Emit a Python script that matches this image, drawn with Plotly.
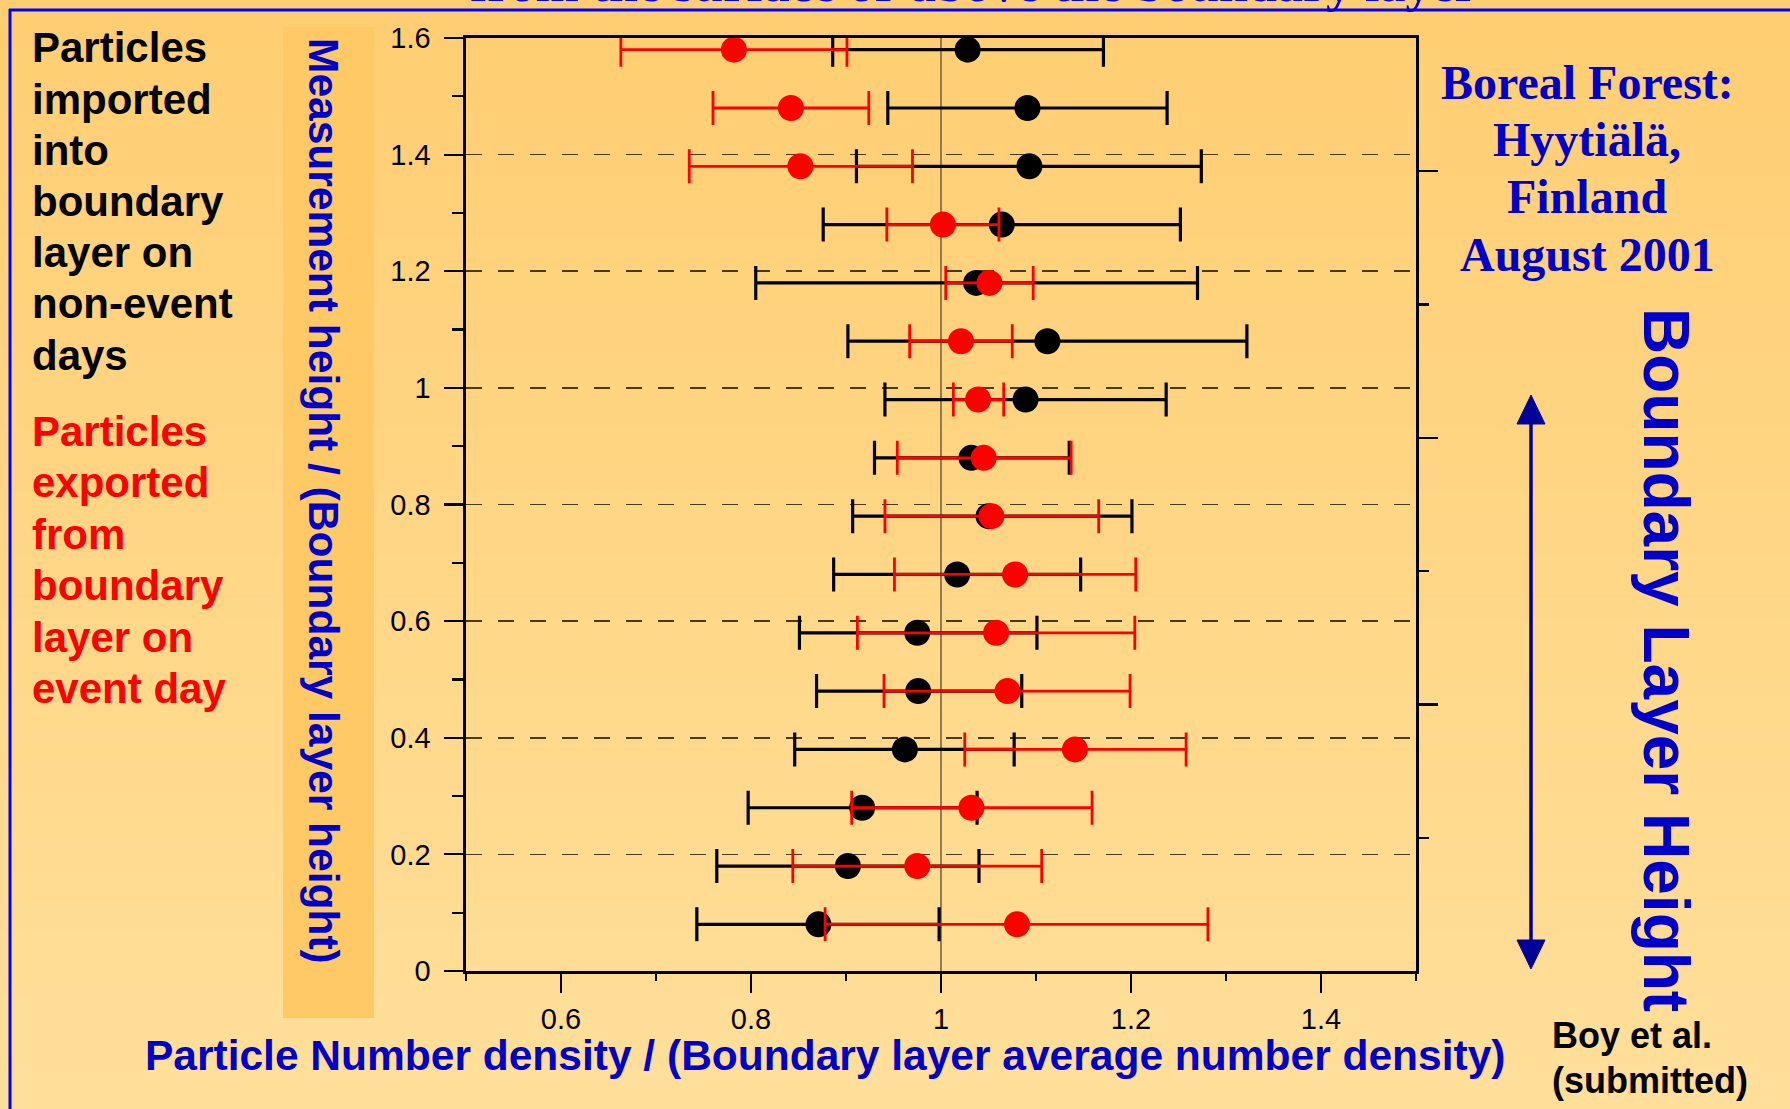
import plotly.graph_objects as go

# ---------------- data ----------------
heights = [0.08, 0.18, 0.28, 0.38, 0.48, 0.58, 0.68, 0.78,
           0.88, 0.98, 1.08, 1.18, 1.28, 1.38, 1.48, 1.58]

# non-event days (black): mean, lower end, upper end of the error bar
nonevent_mean = [0.871, 0.902, 0.917, 0.962, 0.976, 0.975, 1.017, 1.050,
                 1.032, 1.089, 1.112, 1.037, 1.064, 1.093, 1.091, 1.028]
nonevent_low = [0.743, 0.764, 0.797, 0.846, 0.869, 0.851, 0.887, 0.907,
                0.930, 0.941, 0.902, 0.805, 0.876, 0.911, 0.944, 0.886]
nonevent_high = [0.998, 1.040, 1.038, 1.077, 1.085, 1.101, 1.147, 1.201,
                 1.135, 1.237, 1.322, 1.270, 1.252, 1.274, 1.238, 1.171]

# event day (red)
event_mean = [1.080, 0.975, 1.032, 1.141, 1.070, 1.058, 1.078, 1.053,
              1.045, 1.039, 1.021, 1.051, 1.002, 0.852, 0.842, 0.782]
event_low = [0.878, 0.844, 0.906, 1.025, 0.940, 0.912, 0.951, 0.941,
             0.954, 1.013, 0.967, 1.005, 0.943, 0.735, 0.760, 0.663]
event_high = [1.281, 1.106, 1.159, 1.258, 1.199, 1.204, 1.205, 1.166,
              1.137, 1.066, 1.075, 1.097, 1.061, 0.970, 0.924, 0.901]

x_major = [0.6, 0.8, 1.0, 1.2, 1.4]
x_major_text = ["0.6", "0.8", "1", "1.2", "1.4"]
x_minor = [0.5, 0.7, 0.9, 1.1, 1.3, 1.5]
y_major = [0, 0.2, 0.4, 0.6, 0.8, 1.0, 1.2, 1.4, 1.6]
y_major_text = ["0", "0.2", "0.4", "0.6", "0.8", "1", "1.2", "1.4", "1.6"]
y_minor = [0.1, 0.3, 0.5, 0.7, 0.9, 1.1, 1.3, 1.5]
y2_major = [2, 4, 6]
y2_minor = [1, 3, 5]

left_black_lines = ["Particles", "imported", "into", "boundary", "layer on", "non-event", "days"]
left_red_lines = ["Particles", "exported", "from", "boundary", "layer on", "event day"]
site_lines = ["Boreal Forest:", "Hyytiälä,", "Finland", "August 2001"]

# ---------------- geometry helpers ----------------
FW, FH = 1790, 1109
L, T, W, H = 466, 38, 950, 933


def px_x(px):
    return (px - L) / W


def px_y(py):
    return (T + H - py) / H


SANS = "Liberation Sans, Arial, sans-serif"
SERIF = "Liberation Serif, Times New Roman, serif"
BLUE = "#0000CC"

fig = go.Figure()

fig.add_trace(go.Scatter(
    x=nonevent_mean, y=heights, mode="markers",
    marker=dict(color="black", size=26, line=dict(width=0)),
    error_x=dict(type="data", symmetric=False,
                 array=[h - m for h, m in zip(nonevent_high, nonevent_mean)],
                 arrayminus=[m - lo for m, lo in zip(nonevent_mean, nonevent_low)],
                 color="black", thickness=3.2, width=17),
    hoverinfo="skip", showlegend=False))

fig.add_trace(go.Scatter(
    x=event_mean, y=heights, mode="markers",
    marker=dict(color="#FF0000", size=26, line=dict(width=0)),
    error_x=dict(type="data", symmetric=False,
                 array=[h - m for h, m in zip(event_high, event_mean)],
                 arrayminus=[m - lo for m, lo in zip(event_mean, event_low)],
                 color="#FF0000", thickness=2.8, width=17),
    hoverinfo="skip", showlegend=False))

# empty trace so the right-hand axis exists
fig.add_trace(go.Scatter(x=[], y=[], yaxis="y2", showlegend=False, hoverinfo="skip"))

shapes = []
# background vertical gradient
N = 70
top_c = (255, 206, 114)
bot_c = (255, 223, 154)
for i in range(N):
    f = i / (N - 1)
    c = tuple(round(a + (b - a) * f) for a, b in zip(top_c, bot_c))
    y0 = FH * i / N
    y1 = FH * (i + 1) / N + 1
    shapes.append(dict(type="rect", xref="paper", yref="paper",
                       x0=px_x(0), x1=px_x(FW), y0=px_y(y1), y1=px_y(y0),
                       fillcolor="rgb(%d,%d,%d)" % c, line=dict(width=0), layer="below"))
# darker box behind the y title
shapes.append(dict(type="rect", xref="paper", yref="paper",
                   x0=px_x(283), x1=px_x(374), y0=px_y(1018), y1=px_y(27),
                   fillcolor="#FFCA66", line=dict(width=0), layer="below"))
# vertical reference line at x = 1
shapes.append(dict(type="line", xref="x", yref="paper", x0=1, x1=1, y0=0, y1=1,
                   line=dict(color="rgba(95,80,50,0.85)", width=1.6), layer="below"))
# blue frame
shapes.append(dict(type="line", xref="paper", yref="paper",
                   x0=px_x(9), x1=px_x(FW + 5), y0=px_y(10), y1=px_y(10),
                   line=dict(color="#0000FF", width=3)))
shapes.append(dict(type="line", xref="paper", yref="paper",
                   x0=px_x(10), x1=px_x(10), y0=px_y(FH + 5), y1=px_y(9),
                   line=dict(color="#0000FF", width=3)))
# double-headed arrow
AC = "#000099"
shapes.append(dict(type="line", xref="paper", yref="paper",
                   x0=px_x(1531), x1=px_x(1531), y0=px_y(945), y1=px_y(420),
                   line=dict(color=AC, width=3.5)))
for tip, base in [(395, 424), (969, 940)]:
    path = "M %f %f L %f %f L %f %f Z" % (
        px_x(1531), px_y(tip), px_x(1517), px_y(base), px_x(1545), px_y(base))
    shapes.append(dict(type="path", xref="paper", yref="paper", path=path,
                       fillcolor=AC, line=dict(color=AC, width=1)))

ann = []
for i, t in enumerate(left_black_lines):
    ann.append(dict(text="<b>%s</b>" % t, x=px_x(30), y=px_y(48 + 51.2 * i),
                    xanchor="left", yanchor="middle",
                    font=dict(family=SANS, size=42, color="black")))
for i, t in enumerate(left_red_lines):
    ann.append(dict(text="<b>%s</b>" % t, x=px_x(30), y=px_y(431.5 + 51.4 * i),
                    xanchor="left", yanchor="middle",
                    font=dict(family=SANS, size=42, color="#FF0000")))
for i, t in enumerate(site_lines):
    ann.append(dict(text="<b>%s</b>" % t, x=px_x(1587), y=px_y(82 + 57.5 * i),
                    xanchor="center", yanchor="middle",
                    font=dict(family=SERIF, size=48, color=BLUE)))
# axis titles
ann.append(dict(text="<b>Measurement height / (Boundary layer height)</b>",
                x=px_x(324), y=px_y(501), textangle=90,
                xanchor="center", yanchor="middle",
                font=dict(family=SANS, size=42.5, color=BLUE)))
ann.append(dict(text="<b>Particle Number density / (Boundary layer average number density)</b>",
                x=px_x(825), y=px_y(1055), xanchor="center", yanchor="middle",
                font=dict(family=SANS, size=42.5, color=BLUE)))
ann.append(dict(text="<b>Boundary Layer Height</b>",
                x=px_x(1666), y=px_y(660), textangle=90,
                xanchor="center", yanchor="middle",
                font=dict(family=SANS, size=64, color=BLUE)))
ann.append(dict(text="<b>Boy et al.</b>", x=px_x(1550), y=px_y(1035),
                xanchor="left", yanchor="middle",
                font=dict(family=SANS, size=36, color="black")))
ann.append(dict(text="<b>(submitted)</b>", x=px_x(1550), y=px_y(1080),
                xanchor="left", yanchor="middle",
                font=dict(family=SANS, size=36, color="black")))
# slide title, mostly cut off above the top edge (as in the reference)
ann.append(dict(text="<b>from the surface or above the boundary layer</b>",
                x=px_x(974), y=px_y(14), xanchor="center", yanchor="bottom",
                font=dict(family=SERIF, size=52, color="#0000EE")))
for a in ann:
    a.update(xref="paper", yref="paper", showarrow=False)

tickfont = dict(family=SANS, size=29, color="black")

fig.update_layout(
    width=FW, height=FH,
    margin=dict(l=L, r=FW - L - W, t=T, b=FH - T - H, pad=0),
    paper_bgcolor="#FFD894",
    plot_bgcolor="rgba(0,0,0,0)",
    showlegend=False,
    hovermode=False,
    shapes=shapes,
    annotations=ann,
    xaxis=dict(range=[0.5, 1.5], tickmode="array", tickvals=x_major, ticktext=x_major_text,
               ticks="outside", ticklen=19, tickwidth=2.2, tickcolor="black",
               minor=dict(tickmode="array", tickvals=x_minor, ticks="outside",
                          ticklen=7, tickwidth=2.2, tickcolor="black"),
               showline=True, linewidth=2.6, linecolor="black", mirror=True,
               showgrid=False, zeroline=False, tickfont=tickfont,
               ticklabelstandoff=2, fixedrange=True),
    yaxis=dict(range=[0, 1.6], tickmode="array", tickvals=y_major, ticktext=y_major_text,
               ticks="outside", ticklen=19, tickwidth=2.2, tickcolor="black",
               minor=dict(tickmode="array", tickvals=y_minor, ticks="outside",
                          ticklen=11, tickwidth=2.2, tickcolor="black", showgrid=False),
               showline=True, linewidth=2.6, linecolor="black", mirror=False,
               showgrid=True, gridcolor="rgba(40,30,10,0.85)", gridwidth=1.6,
               griddash="16px,16px",
               zeroline=False, tickfont=tickfont, ticklabelstandoff=8, fixedrange=True),
    yaxis2=dict(range=[0, 7], overlaying="y", side="right", tickmode="array",
                tickvals=y2_major, showticklabels=False,
                ticks="outside", ticklen=19, tickwidth=2.2, tickcolor="black",
                minor=dict(tickmode="array", tickvals=y2_minor, ticks="outside",
                           ticklen=10, tickwidth=2.2, tickcolor="black"),
                showline=True, linewidth=2.6, linecolor="black",
                showgrid=False, zeroline=False, fixedrange=True),
)

fig.write_html("out.html", config={"displayModeBar": False, "staticPlot": True},
               post_script="document.body.style.margin='0';document.body.style.overflow='hidden';")
